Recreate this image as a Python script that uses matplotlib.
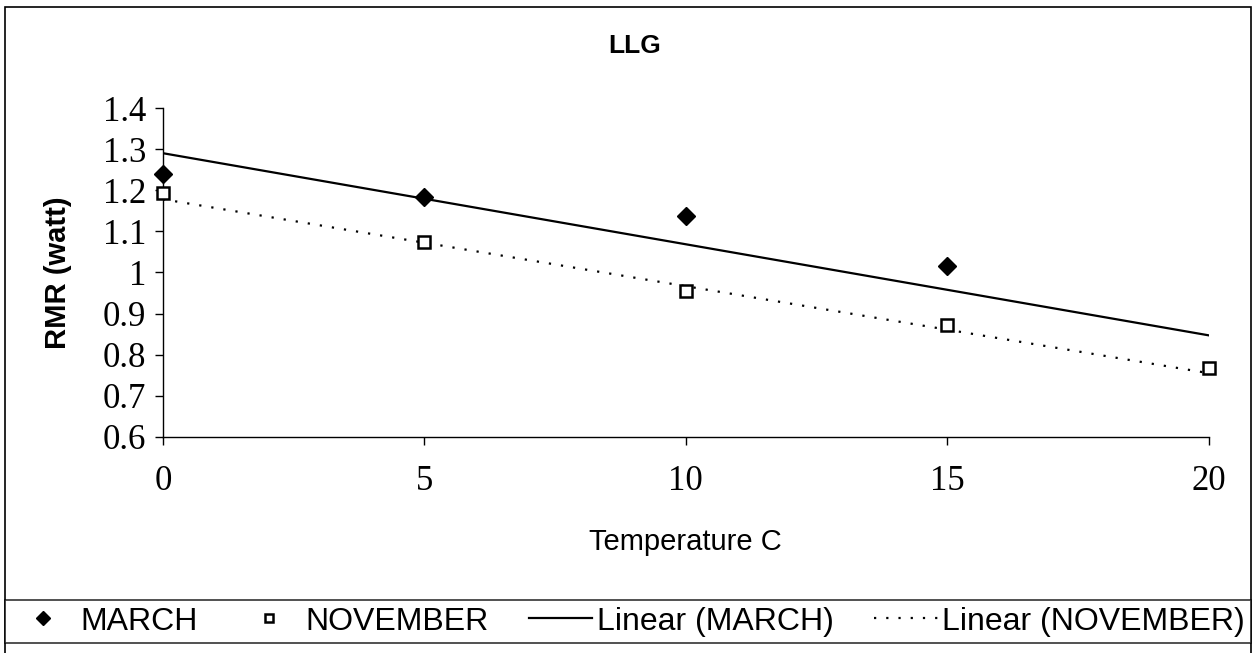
import matplotlib.pyplot as plt
from matplotlib.patches import Rectangle

# Data
temps_march = [0, 5, 10, 15]
rmr_march = [1.24, 1.183, 1.137, 1.015]
temps_nov = [0, 5, 10, 15, 20]
rmr_nov = [1.194, 1.073, 0.955, 0.871, 0.767]

# Excel linear trend lines (end points)
trend_x = [0, 20]
trend_march = [1.29, 0.847]
trend_nov = [1.178, 0.755]

xticks = [0, 5, 10, 15, 20]
yticks = [0.6, 0.7, 0.8, 0.9, 1.0, 1.1, 1.2, 1.3, 1.4]
ytick_labels = ['0.6', '0.7', '0.8', '0.9', '1', '1.1', '1.2', '1.3', '1.4']

serif = 'Liberation Serif'
sans = 'Liberation Sans'

fig = plt.figure(figsize=(12.59, 6.53), dpi=100)
ax = fig.add_axes([0.1295, 0.331, 0.8305, 0.5036])

l1, = ax.plot(temps_march, rmr_march, linestyle='none', marker='D', markersize=9,
              color='black', label='MARCH', zorder=3)
l2, = ax.plot(temps_nov, rmr_nov, linestyle='none', marker='s', markersize=8,
              markerfacecolor='white', markeredgecolor='black', markeredgewidth=1.8,
              label='NOVEMBER', zorder=3)
l3, = ax.plot(trend_x, trend_march, color='black', linewidth=1.6, label='Linear (MARCH)')
l4, = ax.plot(trend_x, trend_nov, color='black', linewidth=1.6,
              linestyle=(0, (1, 4.5)), label='Linear (NOVEMBER)')

ax.set_xlim(0, 20)
ax.set_ylim(0.6, 1.4)
ax.set_xticks(xticks)
ax.set_xticklabels([str(v) for v in xticks], fontfamily=serif, fontsize=25)
ax.set_yticks(yticks)
ax.set_yticklabels(ytick_labels, fontfamily=serif, fontsize=25)
ax.tick_params(direction='out', length=6, width=1, pad=6)
ax.tick_params(axis='x', pad=14)
for s in ['top', 'right']:
    ax.spines[s].set_visible(False)
for s in ['left', 'bottom']:
    ax.spines[s].set_linewidth(1)
for ln in (l1, l2):
    ln.set_clip_on(False)

ax.set_xlabel('Temperature C', fontfamily=sans, fontsize=21, labelpad=22)
ax.set_ylabel('RMR (watt)', fontfamily=sans, fontsize=21, fontweight='bold', labelpad=22)
fig.text(0.504, 0.929, 'LLG', fontfamily=sans, fontsize=19, fontweight='bold',
         ha='center', va='center')

# outer chart frame
fig.patches.append(Rectangle((0.004, -0.02), 0.99, 1.0093, transform=fig.transFigure,
                             fill=False, edgecolor='black', linewidth=1.2))

leg = fig.legend(handles=[l1, l2, l3, l4], loc='lower left', ncol=4, mode='expand',
                 bbox_to_anchor=(0.004, 0.0153, 0.99, 0.078), frameon=True,
                 fancybox=False, edgecolor='black', borderaxespad=0,
                 prop={'family': sans, 'size': 23}, handlelength=2.0,
                 handletextpad=0.15, columnspacing=0.3, borderpad=0.2,
                 markerscale=0.8)
leg.get_frame().set_linewidth(1.2)

fig.savefig('out.png', dpi=100)
